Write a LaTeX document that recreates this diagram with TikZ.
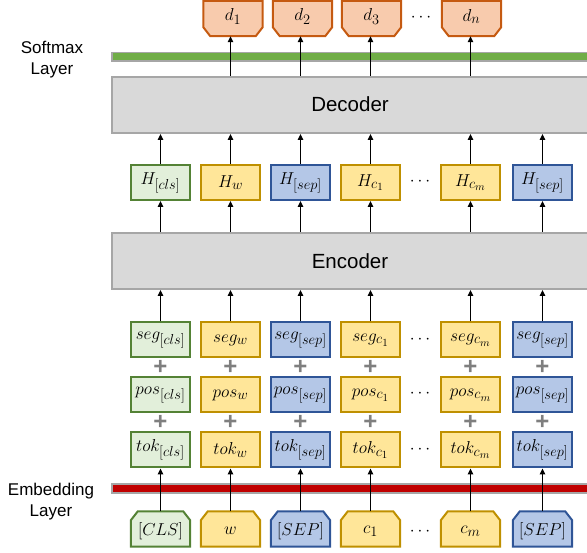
\documentclass[tikz,border=0pt]{standalone}
\usepackage{fontspec}
\setsansfont{Liberation Sans}
\usetikzlibrary{arrows.meta,calc}
\DeclareMathSizes{19}{19}{14}{11}
\definecolor{gfill}{HTML}{E2EFDA}\definecolor{gline}{HTML}{548235}
\definecolor{yfill}{HTML}{FFE699}\definecolor{yline}{HTML}{BF9000}
\definecolor{bfill}{HTML}{B4C7E7}\definecolor{bline}{HTML}{2F5597}
\definecolor{ofill}{HTML}{F8CBAD}\definecolor{oline}{HTML}{C55A11}
\definecolor{boxfill}{HTML}{D9D9D9}\definecolor{boxline}{HTML}{A6A6A6}
\definecolor{smgreen}{HTML}{70AD47}\definecolor{emred}{HTML}{C00000}
\definecolor{plusgray}{HTML}{7F7F7F}
\newcommand\chamTop[3]{\draw[line width=2pt,draw=#2,fill=#3] (#1.south west) -- ([yshift=-9pt]#1.north west) -- ([xshift=7pt]#1.north west) -- ([xshift=-7pt]#1.north east) -- ([yshift=-9pt]#1.north east) -- (#1.south east) -- cycle;}
\newcommand\chamBot[3]{\draw[line width=2pt,draw=#2,fill=#3] (#1.north west) -- (#1.north east) -- ([yshift=9pt]#1.south east) -- ([xshift=-7pt]#1.south east) -- ([xshift=7pt]#1.south west) -- ([yshift=9pt]#1.south west) -- cycle;}
\begin{document}
\begin{tikzpicture}[x=1pt,y=-1pt,
  cell/.style={rectangle,minimum width=59pt,minimum height=35pt,line width=2pt,inner sep=0pt,font=\fontsize{19}{22}\selectfont},
  gcell/.style={cell,draw=gline,fill=gfill},
  ycell/.style={cell,draw=yline,fill=yfill},
  bcell/.style={cell,draw=bline,fill=bfill},
  ghost/.style={rectangle,minimum width=59pt,minimum height=35pt,inner sep=0pt,font=\fontsize{19}{22}\selectfont},
  bigbox/.style={rectangle,draw=boxline,fill=boxfill,line width=2pt,minimum width=490pt,minimum height=56pt,inner sep=0pt},
  bigtext/.style={font=\sffamily\fontsize{20.5}{24}\selectfont},
  bar/.style={rectangle,draw=boxline,line width=1.7pt,minimum width=490pt,minimum height=8.5pt,inner sep=0pt},
  side/.style={align=center,font=\sffamily\fontsize{17}{21}\selectfont},
  plus/.style={text=plusgray,font=\sffamily\bfseries\fontsize{24}{24}\selectfont,inner sep=0pt},
  dots/.style={font=\fontsize{17}{20}\selectfont,inner sep=0pt},
  arr/.style={-{Triangle[length=6pt,width=5.5pt]},line width=1.2pt,black}]
\useasboundingbox (0,0) rectangle (587,553);
% side labels
\node[side] (lsm) at (52,60) {Softmax\\Layer};
\node[side] (lem) at (51,502) {Embedding\\Layer};
% bars
\node[bar,fill=smgreen] (smbar) at (357,56.7) {};
\node[bar,fill=emred] (embar) at (357,488.5) {};
% big boxes
\node[bigbox] (dec) at (357,105) {};
\node[bigtext] (dect) at (350,104) {Decoder};
\node[bigbox] (enc) at (357,261) {};
\node[bigtext] (enct) at (350,261) {Encoder};
% outputs
\node[ghost] (d2) at (233,18.5) {};
\node[ghost] (d3) at (302.5,18.5) {};
\node[ghost] (d4) at (371.5,18.5) {};
\node[ghost] (d5) at (471.5,18.5) {};
\chamBot{d2}{oline}{ofill}\chamBot{d3}{oline}{ofill}\chamBot{d4}{oline}{ofill}\chamBot{d5}{oline}{ofill}
\node[ghost] (d2t) at ([yshift=2pt]d2) {$d_1$};
\node[ghost] (d3t) at ([yshift=2pt]d3) {$d_2$};
\node[ghost] (d4t) at ([yshift=2pt]d4) {$d_3$};
\node[ghost] (d5t) at ([yshift=2pt]d5) {$d_n$};
\node[dots] (dotsD) at (421,18) {$\cdots$};
% H row
\node[gcell] (H1) at (160.5,182.5) {$H_{[cls]}$};
\node[ycell] (H2) at (230.5,182.5) {$H_{w}$};
\node[bcell] (H3) at (300.5,182.5) {$H_{[sep]}$};
\node[ycell] (H4) at (370.5,182.5) {$H_{c_1}$};
\node[ycell] (H5) at (470.5,182.5) {$H_{c_m}$};
\node[bcell] (H6) at (542.5,182.5) {$H_{[sep]}$};
\node[dots] (dotsH) at (420,182) {$\cdots$};
% seg row
\node[gcell] (s1) at (160.5,340) {$seg_{[cls]}$};
\node[ycell] (s2) at (230.5,340) {$seg_{w}$};
\node[bcell] (s3) at (300.5,340) {$seg_{[sep]}$};
\node[ycell] (s4) at (370.5,340) {$seg_{c_1}$};
\node[ycell] (s5) at (470.5,340) {$seg_{c_m}$};
\node[bcell] (s6) at (542.5,340) {$seg_{[sep]}$};
\node[dots] (dotsS) at (420,340) {$\cdots$};
% pos row
\node[gcell] (p1) at (160.5,395) {$pos_{[cls]}$};
\node[ycell] (p2) at (230.5,395) {$pos_{w}$};
\node[bcell] (p3) at (300.5,395) {$pos_{[sep]}$};
\node[ycell] (p4) at (370.5,395) {$pos_{c_1}$};
\node[ycell] (p5) at (470.5,395) {$pos_{c_m}$};
\node[bcell] (p6) at (542.5,395) {$pos_{[sep]}$};
\node[dots] (dotsP) at (420,394) {$\cdots$};
% tok row
\node[gcell] (t1) at (160.5,450) {$tok_{[cls]}$};
\node[ycell] (t2) at (230.5,450) {$tok_{w}$};
\node[bcell] (t3) at (300.5,450) {$tok_{[sep]}$};
\node[ycell] (t4) at (370.5,450) {$tok_{c_1}$};
\node[ycell] (t5) at (470.5,450) {$tok_{c_m}$};
\node[bcell] (t6) at (542.5,450) {$tok_{[sep]}$};
\node[dots] (dotsT) at (420,450) {$\cdots$};
% plus signs
\foreach \c in {1,...,6}{
  \node[plus] (pa\c) at ($(s\c.south)!0.5!(p\c.north)$) {+};
  \node[plus] (pb\c) at ($(p\c.south)!0.5!(t\c.north)$) {+};
}
% inputs
\node[ghost] (i1) at (160.5,529) {};
\node[ghost] (i2) at (230.5,529) {};
\node[ghost] (i3) at (300.5,529) {};
\node[ghost] (i4) at (370.5,529) {};
\node[ghost] (i5) at (470.5,529) {};
\node[ghost] (i6) at (542.5,529) {};
\chamTop{i1}{gline}{gfill}\chamTop{i2}{yline}{yfill}\chamTop{i3}{bline}{bfill}
\chamTop{i4}{yline}{yfill}\chamTop{i5}{yline}{yfill}\chamTop{i6}{bline}{bfill}
\node[ghost] (i1t) at ([yshift=-2pt]i1) {$[CLS]$};
\node[ghost] (i2t) at ([yshift=-2pt]i2) {$w$};
\node[ghost] (i3t) at ([yshift=-2pt]i3) {$[SEP]$};
\node[ghost] (i4t) at ([yshift=-2pt]i4) {$c_1$};
\node[ghost] (i5t) at ([yshift=-2pt]i5) {$c_m$};
\node[ghost] (i6t) at ([yshift=-2pt]i6) {$[SEP]$};
\node[dots] (dotsI) at (420,532) {$\cdots$};
% arrows
\foreach \c in {1,...,6}{
  \draw[arr] (i\c.north) -- (t\c.south);
  \draw[arr] (s\c.north) -- (s\c.north |- enc.south);
  \draw[arr] (H\c.south |- enc.north) -- (H\c.south);
  \draw[arr] (H\c.north) -- (H\c.north |- dec.south);
}
\foreach \c in {2,3,4,5}{
  \draw[arr] (H\c.north |- dec.north) -- (H\c.north |- d\c.south);
}
\end{tikzpicture}
\end{document}
